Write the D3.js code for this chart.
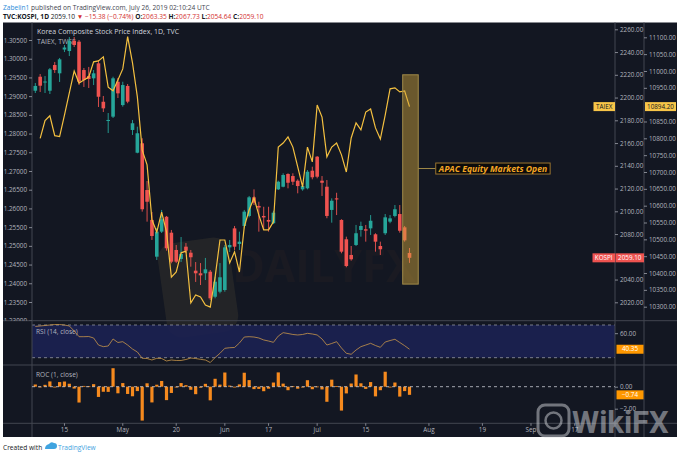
<!DOCTYPE html>
<html><head><meta charset="utf-8">
<script src="https://cdn.jsdelivr.net/npm/d3@7"></script>
<style>
body{margin:0;background:#fff;}
svg{display:block;font-family:"Open Sans",Roboto,sans-serif;}
</style></head><body><div id="chart"></div>
<script>
// KOSPI daily bars (TVC:KOSPI, 1D)
const barDates = ["2019-04-05","2019-04-08","2019-04-09","2019-04-10","2019-04-11","2019-04-12","2019-04-15","2019-04-16","2019-04-17","2019-04-18",
  "2019-04-19","2019-04-22","2019-04-23","2019-04-24","2019-04-25","2019-04-26","2019-04-29","2019-04-30","2019-05-02","2019-05-03",
  "2019-05-07","2019-05-08","2019-05-09","2019-05-10","2019-05-13","2019-05-14","2019-05-15","2019-05-16","2019-05-17","2019-05-20",
  "2019-05-21","2019-05-22","2019-05-23","2019-05-24","2019-05-27","2019-05-28","2019-05-29","2019-05-30","2019-05-31","2019-06-03",
  "2019-06-04","2019-06-05","2019-06-07","2019-06-10","2019-06-11","2019-06-12","2019-06-13","2019-06-14","2019-06-17","2019-06-18",
  "2019-06-19","2019-06-20","2019-06-21","2019-06-24","2019-06-25","2019-06-26","2019-06-27","2019-06-28","2019-07-01","2019-07-02",
  "2019-07-03","2019-07-04","2019-07-05","2019-07-08","2019-07-09","2019-07-10","2019-07-11","2019-07-12","2019-07-15","2019-07-16",
  "2019-07-17","2019-07-18","2019-07-19","2019-07-22","2019-07-23","2019-07-24","2019-07-25","2019-07-26"];
// sessions after the last bar, used by the time axis
const futureDates = ["2019-07-29","2019-07-30","2019-07-31","2019-08-01","2019-08-02","2019-08-05","2019-08-06","2019-08-07","2019-08-08","2019-08-09",
  "2019-08-12","2019-08-13","2019-08-14","2019-08-16","2019-08-19","2019-08-20","2019-08-21","2019-08-22","2019-08-23","2019-08-26",
  "2019-08-27","2019-08-28","2019-08-29","2019-08-30","2019-09-02","2019-09-03","2019-09-04","2019-09-05","2019-09-06","2019-09-09",
  "2019-09-10","2019-09-11","2019-09-16","2019-09-17","2019-09-18","2019-09-19","2019-09-20"];

const open = [2206.0,2218.3,2213.2,2206.0,2228.6,2221.3,2242.2,2240.9,2250.0,2249.1,
  2224.2,2219.0,2216.9,2230.1,2196.3,2179.4,2183.2,2213.9,2193.4,2210.2,
  2171.5,2151.5,2159.8,2118.7,2092.4,2060.1,2082.1,2095.2,2081.2,2066.0,
  2058.1,2068.9,2063.6,2047.8,2045.5,2045.5,2046.9,2024.9,2029.3,2030.8,
  2068.3,2085.0,2071.3,2087.1,2095.9,2112.3,2104.7,2095.9,2092.4,2089.5,
  2119.3,2121.6,2132.8,2131.0,2126.9,2119.3,2120.2,2135.7,2148.0,2126.9,
  2121.6,2101.2,2111.4,2092.4,2075.4,2061.6,2070.4,2083.6,2084.2,2085.0,
  2079.8,2069.5,2080.7,2090.9,2095.9,2097.6,2085.9,2063.35];
const high = [2212.8,2220.7,2218.9,2226.0,2231.3,2234.8,2246.2,2253.2,2253.2,2250.6,
  2226.0,2226.9,2224.2,2233.0,2201.4,2186.4,2218.3,2217.2,2213.9,2211.9,
  2180.3,2174.4,2164.2,2126.6,2099.4,2085.3,2101.2,2095.9,2083.6,2070.4,
  2077.4,2072.1,2066.0,2055.4,2054.5,2059.0,2048.4,2042.5,2054.5,2070.4,
  2074.8,2087.1,2082.1,2101.2,2113.5,2119.3,2108.4,2104.0,2104.0,2100.5,
  2126.9,2133.4,2133.4,2133.4,2128.1,2124.6,2136.3,2139.2,2148.6,2131.0,
  2127.5,2111.4,2116.3,2093.0,2077.7,2069.5,2088.0,2090.9,2088.0,2096.7,
  2080.7,2073.3,2097.6,2096.7,2105.5,2105.5,2087.1,2067.73];
const low = [2204.0,2204.9,2204.0,2203.1,2221.6,2213.7,2240.0,2236.5,2244.4,2211.0,
  2209.3,2208.4,2211.0,2191.7,2187.3,2168.8,2182.0,2199.6,2192.0,2195.0,
  2167.1,2151.0,2099.7,2090.9,2074.8,2057.2,2080.9,2065.4,2054.3,2054.5,
  2055.4,2063.3,2051.3,2037.9,2035.2,2039.6,2022.0,2023.5,2027.9,2029.3,
  2064.2,2066.0,2066.0,2085.0,2094.7,2105.5,2082.1,2083.6,2082.1,2088.8,
  2118.7,2121.1,2120.2,2123.1,2115.8,2118.1,2119.3,2128.1,2129.0,2113.5,
  2093.9,2090.0,2096.7,2063.1,2050.8,2056.6,2069.5,2077.7,2073.3,2079.2,
  2064.5,2061.6,2079.2,2089.5,2094.7,2081.2,2073.3,2054.64];
const close = [2210.2,2210.4,2214.1,2224.8,2224.2,2233.6,2244.0,2250.0,2246.2,2213.9,
  2215.4,2216.3,2221.3,2200.7,2190.5,2180.3,2216.9,2203.7,2211.0,2196.4,
  2177.4,2168.6,2101.8,2108.4,2078.3,2082.1,2093.0,2067.5,2055.7,2055.7,
  2062.5,2065.4,2059.6,2045.5,2043.7,2049.0,2023.5,2038.1,2042.0,2068.3,
  2070.4,2068.9,2073.3,2099.7,2112.3,2107.6,2103.3,2094.6,2090.9,2098.8,
  2126.0,2131.9,2125.1,2126.0,2122.2,2122.2,2134.8,2129.9,2130.4,2125.1,
  2095.9,2109.3,2110.4,2064.5,2051.9,2057.8,2080.7,2087.1,2083.0,2091.7,
  2073.3,2066.6,2094.7,2093.8,2101.8,2082.9,2074.48,2059.10];

// TAIEX, TWSE overlay (own scale)
const taiex = [null,10800,10853,10867,10808,10805,10869,10935,11000,10964,
  10973,10982,11027,11030,11042,10952,10941,10973,11006,11102,
  11024,10923,10765,10721,10558,10522,10581,10522,10388,10403,
  10460,10465,10311,10335,10329,10305,10299,10388,10498,10498,
  10430,10463,10403,10537,10587,10623,10572,10528,10528,10552,
  10774,10786,10804,10774,10715,10656,10774,10730,10899,10863,
  10745,10774,10786,10751,10700,10801,10846,10825,10878,10887,
  10831,10798,10869,10947,10950,10938,10941,10894.2];

// RSI (14, close)
const rsi = [68.2,68.8,69.4,70.0,70.6,70.6,70.0,68.8,62.7,55.7,
  55.7,55.9,54.1,45.5,43.5,44.3,52.9,48.6,49.6,45.5,
  40.6,37.0,29.3,29.0,27.2,29.3,29.0,26.0,27.2,26.6,
  26.6,27.8,29.6,29.0,28.0,27.2,24.1,30.2,35.4,41.5,
  42.2,42.5,48.0,55.3,55.7,55.3,54.1,51.7,50.4,48.8,
  56.5,60.6,59.6,58.4,57.8,58.4,59.8,59.0,57.8,52.9,
  45.5,47.4,49.6,41.9,35.4,34.2,39.4,43.5,45.5,47.6,
  44.9,42.7,49.2,51.0,52.5,48.6,44.7,40.35];

// ROC (1, close)
const roc = [0.20,0.01,0.17,0.48,-0.03,0.42,0.47,0.27,-0.17,-1.44,
  0.07,0.04,0.23,-0.93,-0.46,-0.47,1.68,-0.60,0.33,-0.66,
  -0.87,-0.40,-3.08,0.31,-1.43,0.18,0.52,-1.22,-0.57,0.00,
  0.33,0.14,-0.28,-0.68,-0.09,0.26,-1.24,0.72,0.19,1.29,
  0.10,-0.07,0.21,1.27,0.60,-0.22,-0.20,-0.41,-0.18,0.38,
  1.30,0.28,-0.32,0.04,-0.18,0.00,0.59,-0.23,0.02,-0.25,
  -1.37,0.64,0.05,-2.17,-0.61,0.29,1.11,0.31,-0.20,0.42,
  -0.88,-0.32,1.36,-0.04,0.38,-0.90,-0.40,-0.74];

const timeTicks = [["2019-04-15","15"],["2019-05-02","May"],["2019-05-20","20"],["2019-06-03","Jun"],["2019-06-17","17"],
  ["2019-07-01","Jul"],["2019-07-15","15"],["2019-08-01","Aug"],["2019-08-19","19"],["2019-09-02","Sep"],["2019-09-17","17"]];
const kospiTicks = d3.range(2020, 2261, 20);
const taiexTicks = d3.range(10300, 11101, 50);
const leftTicks = d3.range(0, 16).map(k => 1.23 + k * 0.005);

// annotation drawn on the chart (bar index / KOSPI price)
const apacBox = {from: 75.6, to: 78.8, hi: 2220, lo: 2036};
const apacNote = {at: 82.4, price: 2137.6, text: "APAC Equity Markets Open"};

const W = 680, H = 456;
const fx0 = 3, fx1 = 677, ftop = 22.5, fbot = 437;
const plotL = 32, ax1 = 615, ax2 = 644;
const mainB = 320.7, rsiB = 365, rocB = 423.3;
const bg = "#131722", grid = "#434651", txt = "#b2b5be";
const up = "#26a69a", down = "#ef5350";

const days = barDates.concat(futureDates);
const x = d3.scaleLinear().domain([0, 77]).range([35.3, 409.5]);
const yK = d3.scaleLinear().domain([2020, 2260]).range([302.3, 29.3]);
const yT = d3.scaleLinear().domain([10300, 11100]).range([306.7, 37.3]);
const yL = d3.scaleLinear().domain([1.23, 1.305]).range([320.7, 40]);
const yR = d3.scaleLinear().domain([30, 70]).range([357.7, 325]);
const yC = d3.scaleLinear().domain([-2, 0]).range([408.7, 386.7]);

const lastT = taiex[taiex.length - 1], lastK = close[close.length - 1];

const svg = d3.select("#chart").append("svg").attr("width", W).attr("height", H);

// header
const h1 = svg.append("text").attr("x", 3).attr("y", 9.5).style("font-size", "6.6px").attr("fill", "#434651");
h1.append("tspan").attr("fill", "#2a8bd8").text("Zabelin1");
h1.append("tspan").text(" published on TradingView.com, July 26, 2019 02:10:24 UTC");
const h2 = svg.append("text").attr("x", 3).attr("y", 19).style("font-size", "6.6px").attr("fill", "#131722");
h2.append("tspan").style("font-weight", "bold").text("TVC:KOSPI, 1D");
h2.append("tspan").text("  2059.10 ");
h2.append("tspan").attr("fill", "#d32f2f").text("▼ −15.38 (−0.74%)");
[["O:", "2063.35"], ["H:", "2067.73"], ["L:", "2054.64"], ["C:", "2059.10"]].forEach(p => {
  h2.append("tspan").style("font-weight", "bold").text(" " + p[0]);
  h2.append("tspan").attr("fill", "#d32f2f").text(p[1]);
});

// frame
svg.append("rect").attr("x", fx0).attr("y", ftop).attr("width", fx1 - fx0).attr("height", fbot - ftop).attr("fill", bg);

svg.append("defs").append("clipPath").attr("id", "mainclip").append("rect")
  .attr("x", plotL).attr("y", ftop).attr("width", ax1 - plotL).attr("height", mainB - ftop);
svg.select("defs").append("clipPath").attr("id", "leftclip").append("rect")
  .attr("x", fx0).attr("y", ftop).attr("width", plotL - fx0).attr("height", mainB - ftop);

// watermark (DailyFX)
const wm = svg.append("g");
wm.append("rect").attr("x", 162).attr("y", 240).attr("width", 72).attr("height", 95).attr("rx", 16)
  .attr("transform", "rotate(-8,198,287)").attr("fill", "#3b3a2f").attr("opacity", 0.4);
wm.append("text").attr("x", 232).attr("y", 282).style("font-size", "44px").style("font-weight", "bold")
  .attr("fill", "#5a3c22").attr("opacity", 0.1).text("DAILYFX");

// RSI pane background band
svg.append("rect").attr("x", plotL).attr("y", yR(70)).attr("width", ax1 - plotL).attr("height", yR(30) - yR(70))
  .attr("fill", "#1c2152").attr("fill-opacity", 0.9);
[70, 30].forEach(v => svg.append("line").attr("x1", plotL).attr("x2", ax1).attr("y1", yR(v)).attr("y2", yR(v))
  .attr("stroke", "#9598a1").attr("stroke-width", 0.8).attr("stroke-dasharray", "3,3"));

// dividers
[mainB, rsiB, rocB].forEach(v => svg.append("line").attr("x1", fx0).attr("x2", fx1).attr("y1", v).attr("y2", v)
  .attr("stroke", grid).attr("stroke-width", 1));
[plotL, ax1, ax2].forEach(v => svg.append("line").attr("x1", v).attr("x2", v).attr("y1", ftop).attr("y2", fbot)
  .attr("stroke", grid).attr("stroke-width", 1));

// axes
function styleAxis(g) {
  g.select(".domain").remove();
  g.selectAll("line").attr("stroke", txt).attr("stroke-width", 0.7);
  g.selectAll("text").attr("fill", txt).style("font-size", "6.3px").style("font-family", "'Open Sans',Roboto,sans-serif");
}
svg.append("g").attr("clip-path", "url(#leftclip)").append("g").attr("transform", "translate(" + plotL + ",0)")
  .call(d3.axisLeft(yL).tickValues(leftTicks).tickFormat(d3.format(".5f")).tickSize(3).tickPadding(2)).call(styleAxis);
// the last-price tag covers the tick label next to it
svg.append("g").attr("transform", "translate(" + ax1 + ",0)")
  .call(d3.axisRight(yK).tickValues(kospiTicks.filter(v => Math.abs(yK(v) - yK(lastK)) > 9))
    .tickFormat(d3.format(".2f")).tickSize(3).tickPadding(2)).call(styleAxis);
svg.append("g").attr("transform", "translate(" + ax2 + ",0)")
  .call(d3.axisRight(yT).tickValues(taiexTicks.filter(v => Math.abs(yT(v) - yT(lastT)) > 9))
    .tickFormat(d3.format(".2f")).tickSize(3).tickPadding(2)).call(styleAxis);
svg.append("g").attr("transform", "translate(" + ax1 + ",0)")
  .call(d3.axisRight(yR).tickValues([60]).tickFormat(d3.format(".2f")).tickSize(3).tickPadding(2)).call(styleAxis);
svg.append("g").attr("transform", "translate(" + ax1 + ",0)")
  .call(d3.axisRight(yC).tickValues([0, -2]).tickFormat(d => d3.format(".2f")(d).replace("-", "−")).tickSize(3).tickPadding(2)).call(styleAxis);

// time axis
const tg = svg.append("g");
timeTicks.forEach(t => {
  const xi = x(days.indexOf(t[0]));
  tg.append("line").attr("x1", xi).attr("x2", xi).attr("y1", rocB).attr("y2", rocB + 2.5).attr("stroke", txt).attr("stroke-width", 0.7);
  tg.append("text").attr("x", xi).attr("y", 432).attr("text-anchor", "middle").attr("fill", txt).style("font-size", "6.3px").text(t[1]);
});

// main pane: candles + TAIEX
const mg = svg.append("g").attr("clip-path", "url(#mainclip)");
mg.append("text").attr("x", 37).attr("y", 33.5).attr("fill", "#d1d4dc").style("font-size", "7px").text("Korea Composite Stock Price Index, 1D, TVC");
mg.append("text").attr("x", 37).attr("y", 44).attr("fill", "#b2b5be").style("font-size", "6.8px").text("TAIEX, TWSE");

const bars = barDates.map((d, i) => ({i, o: open[i], h: high[i], l: low[i], c: close[i]}));
const cg = mg.append("g");
cg.selectAll("line").data(bars).join("line")
  .attr("x1", d => x(d.i)).attr("x2", d => x(d.i)).attr("y1", d => yK(d.h)).attr("y2", d => yK(d.l))
  .attr("stroke", d => d.c >= d.o ? up : down).attr("stroke-width", 0.9);
cg.selectAll("rect").data(bars).join("rect")
  .attr("x", d => x(d.i) - 1.8).attr("width", 3.6)
  .attr("y", d => yK(Math.max(d.o, d.c)))
  .attr("height", d => Math.max(0.9, Math.abs(yK(d.o) - yK(d.c))))
  .attr("fill", d => d.c >= d.o ? up : down);

const tLine = d3.line().defined(d => d != null).x((d, i) => x(i)).y(d => yT(d));
mg.append("path").datum(taiex).attr("d", tLine).attr("fill", "none").attr("stroke", "#f4c040").attr("stroke-width", 1.2);

// APAC annotation
mg.append("rect").attr("x", x(apacBox.from)).attr("y", yK(apacBox.hi))
  .attr("width", x(apacBox.to) - x(apacBox.from)).attr("height", yK(apacBox.lo) - yK(apacBox.hi))
  .attr("fill", "#d4a93c").attr("fill-opacity", 0.45).attr("stroke", "#a08a48").attr("stroke-width", 1);
const ny = yK(apacNote.price);
mg.append("line").attr("x1", x(apacBox.to)).attr("x2", x(apacNote.at)).attr("y1", ny).attr("y2", ny)
  .attr("stroke", "#a08a48").attr("stroke-width", 1);
const nbox = mg.append("rect").attr("x", x(apacNote.at)).attr("y", ny - 5.5).attr("height", 11)
  .attr("fill", "#0b0b0b").attr("stroke", "#9a7430").attr("stroke-width", 1);
const nt = mg.append("text").attr("x", x(apacNote.at) + 3).attr("y", ny + 3).attr("fill", "#f5a623")
  .style("font-size", "8.6px").style("font-style", "italic").style("font-weight", "bold").text(apacNote.text);
nbox.attr("width", nt.node().getComputedTextLength() + 6);

// RSI
svg.append("text").attr("x", 36).attr("y", 333.5).attr("fill", txt).style("font-size", "6.6px").text("RSI (14, close)");
svg.append("path").datum(rsi).attr("d", d3.line().x((d, i) => x(i)).y(d => yR(d)))
  .attr("fill", "none").attr("stroke", "#c8964a").attr("stroke-width", 0.8);

// ROC
svg.append("text").attr("x", 36).attr("y", 376.5).attr("fill", txt).style("font-size", "6.6px").text("ROC (1, close)");
svg.append("g").selectAll("rect").data(roc).join("rect")
  .attr("x", (d, i) => x(i) - 1.6).attr("width", 3.2)
  .attr("y", d => Math.min(yC(d), yC(0)))
  .attr("height", d => Math.max(0.8, Math.abs(yC(d) - yC(0))))
  .attr("fill", "#f68a1e");
svg.append("line").attr("x1", plotL).attr("x2", ax1).attr("y1", yC(0)).attr("y2", yC(0))
  .attr("stroke", "#c9ccd4").attr("stroke-width", 0.8).attr("stroke-dasharray", "3,3");

// price tags
function tag(x0, w, yc, label, fill, color) {
  svg.append("rect").attr("x", x0).attr("y", yc - 4.5).attr("width", w).attr("height", 9).attr("fill", fill);
  svg.append("text").attr("x", x0 + w / 2).attr("y", yc + 2.2).attr("text-anchor", "middle")
    .attr("fill", color).style("font-size", "6.3px").text(label);
}
tag(593.5, 21.5, yT(lastT), "TAIEX", "#f7c548", "#131722");
tag(ax2 + 1, 31, yT(lastT), d3.format(".2f")(lastT), "#f7c548", "#131722");
tag(592.5, 22.5, yK(lastK), "KOSPI", "#ef5350", "#ffffff");
tag(ax1 + 0.5, 28.5, yK(lastK), d3.format(".2f")(lastK), "#ef5350", "#ffffff");
tag(ax1 + 1.5, 27, yR(rsi[rsi.length - 1]), d3.format(".2f")(rsi[rsi.length - 1]), "#ff9800", "#ffffff");
tag(ax1 + 1.5, 27, yC(roc[roc.length - 1]), d3.format(".2f")(roc[roc.length - 1]).replace("-", "−"), "#ff9800", "#ffffff");

// WikiFX watermark
const wk = svg.append("g").attr("opacity", 0.5);
wk.append("rect").attr("x", 538).attr("y", 405).attr("width", 31).attr("height", 31).attr("rx", 7)
  .attr("fill", "none").attr("stroke", "#d0d3d8").attr("stroke-width", 3);
wk.append("circle").attr("cx", 553.5).attr("cy", 420.5).attr("r", 8).attr("fill", "none").attr("stroke", "#d0d3d8").attr("stroke-width", 2.5);
wk.append("text").attr("x", 572).attr("y", 433).attr("fill", "#d0d3d8").style("font-size", "31px").style("font-weight", "bold")
  .style("font-family", "Roboto,'Open Sans',sans-serif").text("WikiFX");

// footer
svg.append("text").attr("x", 3).attr("y", 449.5).attr("fill", "#131722").style("font-size", "6.6px").text("Created with");
svg.append("path").attr("d", "M45,449 q0,-4 4,-5 q2,-3 5,-1 q3,0 3,3 q0,3 -3,3 z").attr("fill", "#3fa3e0");
svg.append("text").attr("x", 58).attr("y", 449.5).attr("fill", "#3fa3e0").style("font-size", "6.6px").text("TradingView");
</script></body></html>
